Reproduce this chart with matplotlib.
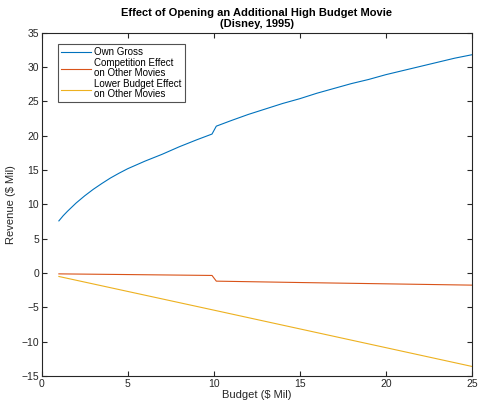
import numpy as np
import matplotlib
matplotlib.use("Agg")
import matplotlib.pyplot as plt

plt.rcParams['font.family'] = ['Liberation Sans', 'DejaVu Sans']

# Own gross revenue vs. budget ($ Mil)
budget_own = [1.0, 1.25, 1.5, 1.75, 2.0, 2.5, 3.0, 3.5, 4.0, 4.5, 5.0, 6.0, 7.0,
              8.0, 9.0, 9.9, 10.15, 11.0, 12.0, 13.0, 14.0, 15.0, 16.0, 17.0,
              18.0, 19.0, 20.0, 21.0, 22.0, 23.0, 24.0, 25.0]
own_gross = [7.6, 8.35, 9.0, 9.6, 10.2, 11.25, 12.2, 13.05, 13.85, 14.55, 15.2,
             16.3, 17.3, 18.4, 19.4, 20.25, 21.4, 22.2, 23.1, 23.9, 24.7, 25.4,
             26.2, 26.9, 27.6, 28.2, 28.9, 29.5, 30.1, 30.7, 31.3, 31.8]

# Competition effect on the other movies
budget_comp = [1.0, 5.0, 9.9, 10.15, 15.0, 20.0, 25.0]
competition = [-0.12, -0.22, -0.35, -1.18, -1.38, -1.57, -1.76]

# Lower budget effect on the other movies
budget_low = [1.0, 10.0, 25.0]
lower_budget = [-0.5, -5.4, -13.6]

fig = plt.figure(figsize=(4.79, 4.08), dpi=100)
ax = fig.add_axes([0.087, 0.0784, 0.898, 0.8412])

ax.plot(budget_own, own_gross, color='#0072BD', lw=0.8, label='Own Gross')
ax.plot(budget_comp, competition, color='#D95319', lw=0.8,
        label='Competition Effect\non Other Movies')
ax.plot(budget_low, lower_budget, color='#EDB120', lw=0.8,
        label='Lower Budget Effect\non Other Movies')

ax.set_xlim(0, 25)
ax.set_ylim(-15, 35)
ax.set_xticks(np.arange(0, 26, 5))
ax.set_yticks(np.arange(-15, 36, 5))
ax.tick_params(direction='in', length=3.5, width=0.8, colors='#262626',
               labelsize=7.5, top=True, right=True, pad=2)
for s in ax.spines.values():
    s.set_color('#262626')
    s.set_linewidth(0.8)

ax.set_xlabel('Budget ($ Mil)', fontsize=8, color='#262626', labelpad=1)
ax.set_ylabel('Revenue ($ Mil)', fontsize=8, color='#262626', labelpad=4)
ax.set_title('Effect of Opening an Additional High Budget Movie\n(Disney, 1995)',
             fontsize=8, fontweight='bold', linespacing=1.1, pad=4)

leg = ax.legend(loc='upper left', bbox_to_anchor=(0.038, 0.967), fontsize=7,
                frameon=True, fancybox=False, borderaxespad=0, handlelength=3.1,
                handletextpad=0.35, labelspacing=0.1, borderpad=0.3)
leg.get_frame().set_edgecolor('#262626')
leg.get_frame().set_linewidth(0.8)
for t in leg.get_texts():
    t.set_linespacing(1.0)

fig.savefig('out.png', dpi=100)
